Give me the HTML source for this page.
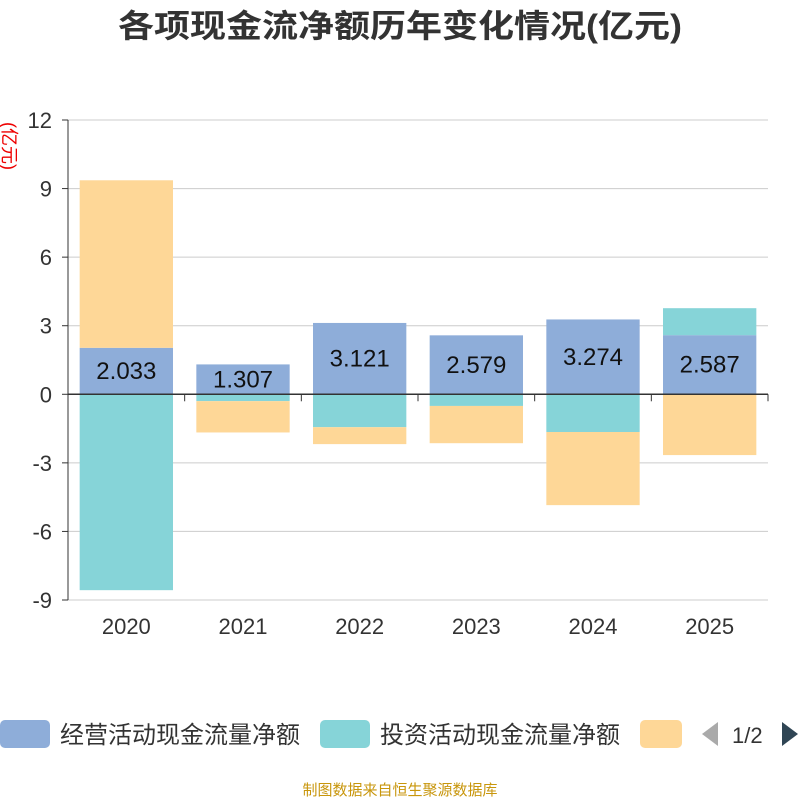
<!DOCTYPE html>
<html><head><meta charset="utf-8">
<style>
body{margin:0;background:#fff;font-family:"Liberation Sans","Noto Sans CJK SC",sans-serif;}
#wrap{position:relative;width:800px;height:800px;overflow:hidden;}
</style></head>
<body>
<div id="wrap">
<svg id="chart" width="800" height="800" xmlns="http://www.w3.org/2000/svg">
<text x="118" y="37" textLength="564" lengthAdjust="spacingAndGlyphs" font-size="32" font-weight="bold" fill="#333" font-family="Liberation Sans,Noto Sans CJK SC,sans-serif">各项现金流净额历年变化情况(亿元)</text>
<text transform="translate(3,146) rotate(90)" text-anchor="middle" font-size="18" fill="#e00" font-family="Liberation Sans,Noto Sans CJK SC,sans-serif">(亿元)</text>
<g id="grid"></g><g id="bars"></g><g id="axes"></g>
<g font-family="Liberation Sans,Noto Sans CJK SC,sans-serif" font-size="24" fill="#333">
<rect x="0" y="720" width="50" height="28" rx="5" fill="#8eadd9"/>
<text x="60" y="743">经营活动现金流量净额</text>
<rect x="320" y="720" width="50" height="28" rx="5" fill="#86d4d8"/>
<text x="380" y="743">投资活动现金流量净额</text>
<rect x="640" y="720" width="42" height="28" rx="5" fill="#fed797"/>
<path d="M702 734 L718 722 L718 746 Z" fill="#aaa"/>
<text x="732" y="743" font-size="22">1/2</text>
<path d="M798 734 L782 722 L782 746 Z" fill="#2f4554"/>
</g>
<text x="400" y="795" text-anchor="middle" font-size="15" fill="#c8960c" font-family="Liberation Sans,Noto Sans CJK SC,sans-serif">制图数据来自恒生聚源数据库</text>
</svg>
</div>
<script>
const categories=["2020","2021","2022","2023","2024","2025"];
const operating=[2.033,1.307,3.121,2.579,3.274,2.587];
const investing=[-8.57,-0.30,-1.44,-0.51,-1.65,1.18];
const financing=[7.33,-1.37,-0.74,-1.63,-3.20,-2.66];
const yTicks=[12,9,6,3,0,-3,-6,-9];
const opLabels=["2.033","1.307","3.121","2.579","3.274","2.587"];

const NS="http://www.w3.org/2000/svg";
const X0=68,X1=768,Y0=120,Y1=600,YMAX=12,YMIN=-9;
const y=v=>Y0+(YMAX-v)/(YMAX-YMIN)*(Y1-Y0);
const bw=(X1-X0)/categories.length;
const xc=i=>X0+bw*(i+0.5);
function mk(tag,attrs,parent){const e=document.createElementNS(NS,tag);for(const k in attrs)e.setAttribute(k,attrs[k]);parent.appendChild(e);return e;}
const grid=document.getElementById('grid'),bars=document.getElementById('bars'),axes=document.getElementById('axes');
yTicks.forEach(t=>{
 const l=mk('line',{x1:X0,x2:X1,y1:y(t),y2:y(t),stroke:'#ccc','stroke-width':1},grid);
 
 
 const tx=mk('text',{x:52,y:y(t)+8,'text-anchor':'end','font-size':22,fill:'#333','font-family':'Liberation Sans,sans-serif'},axes);
 tx.textContent=t;
 
 
 const tk=mk('line',{x1:X0-6,x2:X0,y1:y(t),y2:y(t),stroke:'#333'},axes);
 
 
});
const ya=mk('line',{x1:X0,x2:X0,y1:Y0,y2:Y1,stroke:'#333'},axes);


const series=[[operating,'#8eadd9','bar-operating'],[investing,'#86d4d8','bar-investing'],[financing,'#fed797','bar-financing']];
categories.forEach((c,i)=>{
 let pos=0,neg=0;
 series.forEach(([arr,col,name])=>{
  const v=arr[i];let a,b;
  if(v>=0){a=pos;b=pos+v;pos=b;}else{a=neg;b=neg+v;neg=b;}
  const top=Math.min(y(a),y(b)),h=Math.abs(y(a)-y(b));
  const r=mk('rect',{x:xc(i)-bw*0.4,y:top,width:bw*0.8,height:h,fill:col},bars);
  
  
 });
 const lb=mk('text',{x:xc(i),y:y(operating[i]/2)+8,'text-anchor':'middle','font-size':24,fill:'#111','font-family':'Liberation Sans,sans-serif'},bars);
 lb.textContent=opLabels[i];
 
 
 const xt=mk('text',{x:xc(i),y:Y1+34,'text-anchor':'middle','font-size':22,fill:'#333','font-family':'Liberation Sans,sans-serif'},axes);
 xt.textContent=c;
 
 
});
const xa=mk('line',{x1:X0,x2:X1,y1:y(0),y2:y(0),stroke:'#333','stroke-width':1.5},axes);


for(let i=0;i<=categories.length;i++){
 const t=mk('line',{x1:X0+bw*i,x2:X0+bw*i,y1:y(0),y2:y(0)+7,stroke:'#333'},axes);
 
 
}
</script>
</body></html>
